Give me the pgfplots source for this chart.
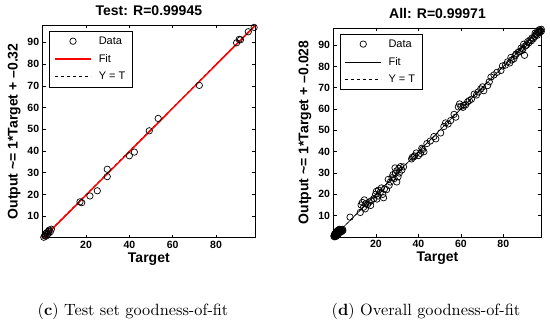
\documentclass[border=0pt]{standalone}
\usepackage{pgfplots}
\pgfplotsset{compat=1.18}
\usepackage{fontspec}
\newfontfamily\arial{Liberation Sans}
\begin{document}
\begin{tikzpicture}[x=1pt,y=1pt]
\path[use as bounding box] (0,0) rectangle (550,324);
\pgfplotsset{
 mystyle/.style={
  scale only axis, anchor=south west,
  xmin=0,xmax=98,ymin=0,ymax=98,
  xtick={20,40,60,80}, ytick={10,20,...,90},
  tick align=inside, major tick length=3pt,
  /pgf/number format/assume math mode=true,
  tick label style={font=\arial\bfseries\fontsize{10.5}{12}\selectfont},
  label style={font=\arial\bfseries\fontsize{14}{16}\selectfont},
  title style={font=\arial\bfseries\fontsize{14}{16}\selectfont},
  xlabel={Target},
  xlabel style={yshift=3pt},
  legend style={at={(0.03,0.972)},anchor=north west,
     font=\arial\fontsize{11}{13}\selectfont,
     inner xsep=5pt, inner ysep=3.5pt, row sep=4.5pt,
     /tikz/every odd column/.append style={column sep=5pt}},
  legend cell align=left,
  axis line style={line width=0.8pt},
  every tick/.style={line width=0.6pt, black},
 },
 linelegend/.style={legend image code/.code={\draw[##1] (0pt,0pt) -- (36pt,0pt);}},
 dotlegend/.style={legend image code/.code={\draw[##1] plot coordinates {(18pt,0pt)};}},
}
% ---------- (c) Test ----------
\begin{axis}[mystyle, at={(42.7pt,86.1pt)}, width=212.3pt, height=212.9pt,
  title={Test: R=0.99945},
  ylabel={Output \char`~= 1*Target + \textendash0.32}]
\addlegendimage{only marks, mark=o, mark size=3.2pt, mark options={line width=0.7pt}, black, dotlegend}
\addlegendentry{Data}
\addlegendimage{draw=red, line width=1.5pt, linelegend}
\addlegendentry{Fit}
\addlegendimage{draw=black, dashed, line width=0.6pt, linelegend}
\addlegendentry{Y = T}
\addplot[black, dashed, line width=0.6pt, forget plot] coordinates {(0,0) (98,98)};
\addplot[only marks, mark=o, mark size=3.2pt, mark options={line width=0.7pt}, black, forget plot]
 coordinates {
 (0.5,0.3) (0.9,1.0) (1.3,1.8) (1.8,2.4) (2.2,1.6) (2.6,3.0) (3.0,3.6) (3.5,2.8) (4.0,4.0) (1.5,0.8) (2.8,2.2)
 (17.2,16.6) (18.0,16.2) (21.8,19.3) (25.2,21.7) (29.8,28.2) (29.8,31.6)
 (40.0,37.8) (42.3,39.5) (49.2,49.3) (53.3,55.0) (72.3,70.2)
 (89.5,89.8) (90.7,91.4) (91.3,91.2) (94.9,94.9) (97.6,96.9)
 };
\addplot[draw=red, line width=1.5pt, forget plot] coordinates {(0,-0.32) (98,97.68)};
\end{axis}
% ---------- (d) All ----------
\begin{axis}[mystyle, at={(333.5pt,87pt)}, width=208pt, height=209pt,
  title={All: R=0.99971},
  ylabel={Output \char`~= 1*Target + \textendash0.028}]
\addlegendimage{only marks, mark=o, mark size=3.2pt, mark options={line width=0.7pt}, black, dotlegend}
\addlegendentry{Data}
\addlegendimage{draw=black, line width=0.6pt, linelegend}
\addlegendentry{Fit}
\addlegendimage{draw=black, dashed, line width=0.6pt, linelegend}
\addlegendentry{Y = T}
\addplot[black, dashed, line width=0.6pt, forget plot] coordinates {(0,0) (98,98)};
\addplot[only marks, mark=o, mark size=3.2pt, mark options={line width=0.7pt}, black, forget plot]
 coordinates {
 (0.2,0.4) (0.4,0.1) (0.6,0.9) (0.8,0.5) (1.0,1.3) (1.2,0.8) (1.4,1.7) (1.6,1.1) (1.8,2.1) (2.0,1.5)
 (2.2,2.5) (2.4,1.9) (2.6,2.9) (2.8,2.3) (3.0,3.2) (3.2,2.7) (3.4,3.5) (3.6,3.0) (3.8,3.4) (4.0,3.1)
 (4.3,3.6) (0.5,1.4) (1.1,2.2) (1.7,2.8) (2.3,3.3) (2.9,3.6) (1.3,0.4) (2.1,1.0) (3.3,2.2) (4.4,3.0)
 (0.3,0.7) (1.5,2.0) (2.7,3.4) (3.9,2.6) (0.9,0.2)
 (7.8,9.3) (12.6,11.5)
 (13.0,15.0) (13.6,16.2) (14.2,14.0) (14.5,17.4) (15.2,15.6) (16.0,15.2) (16.8,16.4) (17.5,14.8) (17.8,17.0) (15.0,13.2)
 (19.0,18.0) (19.8,20.0) (20.5,17.8) (21.0,19.2) (21.2,22.0) (22.0,21.0) (22.6,23.0) (23.2,20.0) (24.0,22.5) (20.2,21.4) (23.6,18.4)
 (25.0,22.2) (25.8,27.0) (26.8,25.8) (27.6,27.8) (28.6,27.4) (29.2,30.0) (29.8,31.0) (30.4,28.2) (30.8,32.2) (31.6,33.0)
 (29.8,25.8) (31.0,30.0) (29.0,32.4) (32.2,31.4) (28.0,29.2) (26.2,24.2)
 (33.0,32.9) (36.8,36.6) (37.2,37.4) (37.8,37.6) (38.2,38.0) (40.0,38.2) (41.0,39.2) (42.0,41.0) (42.6,40.0) (41.6,41.6) (39.0,39.4)
 (44.0,43.8) (45.6,45.0) (47.3,47.1) (48.2,46.0) (50.5,48.8) (52.0,51.8) (52.8,53.5) (54.0,53.0) (55.2,54.6) (56.8,57.5) (57.6,56.2)
 (58.8,61.0) (59.4,62.4) (60.0,61.2) (61.0,60.8) (61.5,61.8) (62.3,62.0) (63.2,63.4) (64.0,64.0) (65.0,64.6)
 (66.3,67.0) (67.4,66.6) (68.2,68.0) (69.4,69.4) (70.2,70.4) (70.8,68.6) (72.6,71.0) (73.4,72.8) (74.2,75.0) (75.6,76.0)
 (77.0,77.2) (78.9,78.1) (79.6,80.2) (81.0,80.6) (82.0,82.1) (83.0,81.6) (84.0,83.0) (85.0,83.6) (86.0,85.8) (87.0,86.6)
 (87.7,87.0) (88.4,88.6) (89.2,88.2) (90.0,85.2) (90.4,89.6) (91.0,90.0) (91.5,91.6) (92.0,91.0) (92.6,92.4) (93.2,92.0)
 (93.6,93.4) (94.2,93.0) (94.7,94.0) (95.2,94.8) (95.6,95.2) (96.0,94.6) (96.4,95.8) (96.8,96.2) (97.2,96.0) (97.5,96.8)
 (97.9,96.4) (97.9,97.4) (97.0,97.2) (96.2,96.6) (95.0,95.6) (89.6,90.4) (88.8,87.4) (85.6,85.0) (83.6,84.2)
 };
\addplot[black, line width=0.6pt, forget plot] coordinates {(0,-0.028) (98,97.972)};
\end{axis}
\node at (133,13) {\scalebox{1.63}{(\textbf{c}) Test set goodness-of-fit}};
\node at (426,12.3) {\scalebox{1.63}{(\textbf{d}) Overall goodness-of-fit}};
\end{tikzpicture}
\end{document}
